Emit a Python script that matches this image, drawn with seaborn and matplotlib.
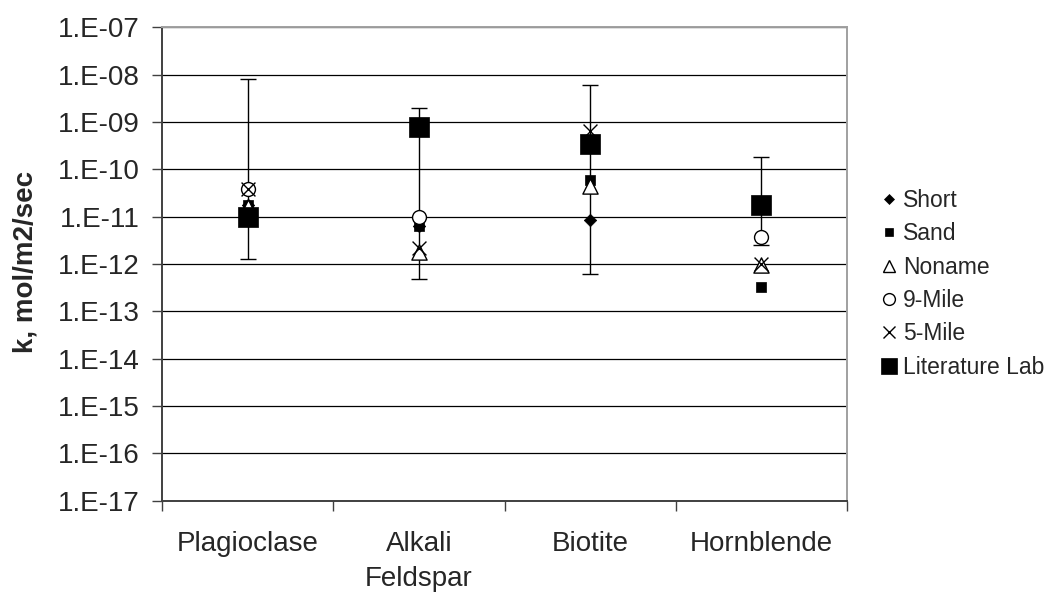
import numpy as np
import pandas as pd
import matplotlib
matplotlib.use("Agg")
import matplotlib.pyplot as plt
import seaborn as sns
from matplotlib.lines import Line2D
from matplotlib.ticker import FixedLocator, NullLocator, FixedFormatter, NullFormatter

# Dissolution rate constants (mol/m2/sec) by mineral and site
minerals = ["Plagioclase", "Alkali\nFeldspar", "Biotite", "Hornblende"]
short = [1.8e-11, 6.3e-12, 8.7e-12, np.nan]
sand = [1.8e-11, 6.5e-12, 5.9e-11, 3.3e-13]
noname = [1.6e-11, 1.8e-12, 4.4e-11, 9.5e-13]
nine_mile = [3.8e-11, 1.0e-11, np.nan, 3.7e-12]
five_mile = [3.8e-11, 2.2e-12, 6.5e-10, 1.0e-12]
literature_lab = [9.7e-12, 7.9e-10, 3.5e-10, 1.8e-11]
# Range of published laboratory rates
literature_low = [1.3e-12, 4.9e-13, 6.2e-13, 2.5e-12]
literature_high = [8.0e-9, 2.0e-9, 6.0e-9, 1.85e-10]

series_names = ["Short", "Sand", "Noname", "9-Mile", "5-Mile", "Literature Lab"]
series_values = [short, sand, noname, nine_mile, five_mile, literature_lab]
decades = [-7, -8, -9, -10, -11, -12, -13, -14, -15, -16, -17]

# Long-form table for seaborn
positions = np.arange(len(minerals)) + 0.5
rows = []
for name, vals in zip(series_names, series_values):
    for pos, mineral, v in zip(positions, minerals, vals):
        rows.append({"mineral": mineral, "pos": pos, "series": name, "k": v})
df = pd.DataFrame(rows).dropna()

sns.set_theme(style="white")
plt.rcParams["font.family"] = ["Liberation Sans", "DejaVu Sans"]

fig = plt.figure(figsize=(10.47, 5.95), dpi=100)
ax = fig.add_axes([162 / 1047, 1 - 500.7 / 595, 685 / 1047, 473.4 / 595])

# Marker styles per series
styles = {
    "Short": dict(marker="D", s=40, color="black", edgecolor="black", linewidth=0.5),
    "Sand": dict(marker="s", s=42, color="black", edgecolor="black", linewidth=0.5),
    "Noname": dict(marker="^", s=120, color="white", edgecolor="black", linewidth=1.0),
    "9-Mile": dict(marker="o", s=100, color="white", edgecolor="black", linewidth=1.0),
    "5-Mile": dict(marker="x", s=100, color="black", linewidth=1.0),
    "Literature Lab": dict(marker="s", s=190, color="black", edgecolor="black", linewidth=0.5),
}

# Error bars spanning the literature range
lit = np.array(literature_lab)
ax.errorbar(positions, lit,
            yerr=[lit - np.array(literature_low), np.array(literature_high) - lit],
            fmt="none", ecolor="black", elinewidth=1.0, capsize=5.5, capthick=1.0,
            zorder=2)

for i, name in enumerate(series_names):
    sub = df[df["series"] == name]
    sns.scatterplot(data=sub, x="pos", y="k", ax=ax, legend=False,
                    zorder=3 + i, **styles[name])

ax.set_yscale("log")
ax.set_ylim(1e-17, 1e-7)
ax.set_xlim(0, len(minerals))

# Y axis: one gridline and label per decade
ytick_vals = [10.0 ** d for d in decades]
ax.yaxis.set_major_locator(FixedLocator(ytick_vals))
ax.yaxis.set_major_formatter(FixedFormatter([f"1.E{d:03d}" for d in decades]))
ax.yaxis.set_minor_locator(NullLocator())
ax.yaxis.grid(True, which="major", color="black", linewidth=0.9)
ax.xaxis.grid(False)
ax.set_axisbelow(True)

# X axis: ticks at category boundaries, labels centred in each category
ax.xaxis.set_major_locator(FixedLocator(np.arange(len(minerals) + 1)))
ax.xaxis.set_major_formatter(NullFormatter())
ax.xaxis.set_minor_locator(FixedLocator(positions))
ax.xaxis.set_minor_formatter(FixedFormatter(minerals))
ax.tick_params(axis="x", which="major", direction="out", length=7, width=1.0,
               color="#404040", bottom=True)
ax.tick_params(axis="x", which="minor", length=0, pad=22, labelsize=20)
ax.tick_params(axis="y", which="major", direction="out", length=7, width=1.0,
               color="#404040", left=True, labelsize=20, pad=9)
for lbl in ax.get_xticklabels(minor=True):
    lbl.set_linespacing(1.45)

ax.set_xlabel("")
ax.set_ylabel("k, mol/m2/sec", fontsize=20, fontweight="bold")
ax.yaxis.set_label_coords(-0.181, 0.505)

for side in ("left", "bottom"):
    ax.spines[side].set_color("#404040")
    ax.spines[side].set_linewidth(1.4)
for side in ("top", "right"):
    ax.spines[side].set_color("#a0a0a0")
    ax.spines[side].set_linewidth(1.4)

# Legend
handles = []
for name in series_names:
    st = styles[name]
    face = st.get("color", "black")
    handles.append(Line2D([], [], linestyle="none", marker=st["marker"],
                          markersize=np.sqrt(st["s"]) * (0.8 if name == "Literature Lab" else 0.85),
                          markerfacecolor=face if st["marker"] != "x" else "black",
                          markeredgecolor="black",
                          markeredgewidth=st.get("linewidth", 1.0)))
fig.legend(handles, series_names, loc="upper left",
           bbox_to_anchor=(880 / 1047, 1 - 189 / 595), frameon=False,
           fontsize=16.5, handlelength=0.8, handletextpad=0.2, labelspacing=0.45,
           borderaxespad=0, borderpad=0)

fig.savefig("out.png", dpi=100, facecolor="white")
